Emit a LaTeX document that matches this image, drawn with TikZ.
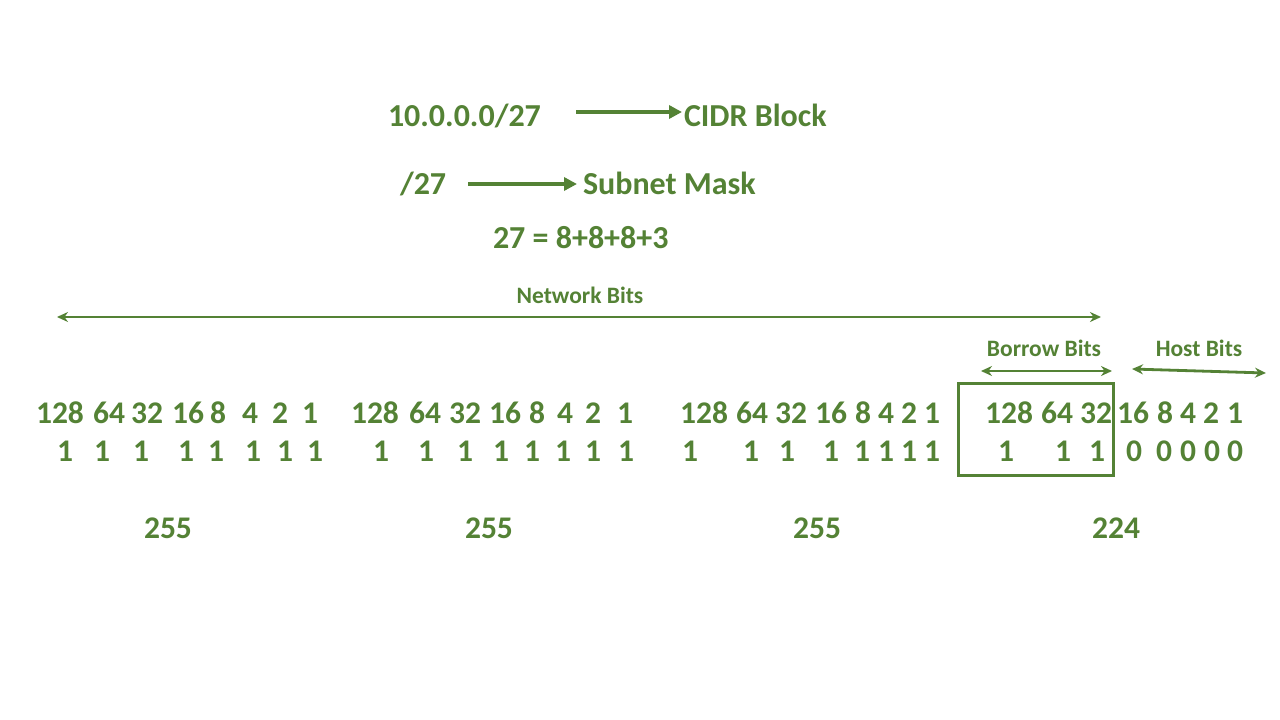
\documentclass[tikz,border=0pt]{standalone}
\usepackage{fontspec}
\setmainfont{Carlito}
\usetikzlibrary{arrows.meta}
\definecolor{cgreen}{RGB}{84,130,53}
\begin{document}
\begin{tikzpicture}[x=1pt,y=-1pt,
  every node/.style={inner sep=0pt,outer sep=0pt,text=cgreen,font=\bfseries},
  big/.style={font=\fontsize{32}{36}\selectfont\bfseries,anchor=base west},
  num/.style={font=\fontsize{31.5}{34}\selectfont\bfseries,anchor=base},
  lab/.style={font=\fontsize{23.5}{26}\selectfont\bfseries,anchor=base},
  bigarrow/.style={draw=cgreen,line width=4.5pt,-{Triangle[length=13pt,width=13pt]}},
  dblarrow/.style={draw=cgreen,line width=2.8pt,{Stealth[length=11pt,width=10pt]}-{Stealth[length=11pt,width=10pt]}},
  boxstyle/.style={draw=cgreen,line width=3pt}]
\useasboundingbox (0,0) rectangle (1280,720);
\fill[white] (0,0) rectangle (1280,720);

% top section
\node[big] (ip) at (388,126) {10.0.0.0/27};
\node[big] (cidr) at (684,126) {CIDR Block};
\node[big] (sl) at (400,194) {/27};
\node[big] (mask) at (583,194) {Subnet Mask};
\node[big] (sum) at (493,248) {27 = 8+8+8+3};
\coordinate (a1s) at (576,112);
\coordinate (a1e) at (682,112);
\coordinate (a2s) at (468,184);
\coordinate (a2e) at (577,184);
\draw[bigarrow] (a1s) -- (a1e);
\draw[bigarrow] (a2s) -- (a2e);

% labels and arrows
\node[lab] (net) at (580,303) {Network Bits};
\node[lab] (borrow) at (1044,356) {Borrow Bits};
\node[lab] (host) at (1199,356) {Host Bits};
\coordinate (n1) at (57,317);
\coordinate (n2) at (1101,317);
\coordinate (b1) at (981,371);
\coordinate (b2) at (1112,371);
\coordinate (h1) at (1132,369);
\coordinate (h2) at (1266,373);
\draw[dblarrow] (n1) -- (n2);
\draw[dblarrow] (b1) -- (b2);
\draw[dblarrow] (h1) -- (h2);

% place values
\foreach \x/\t [count=\i] in {60/128,109/64,147/32,188/16,218/8,250/4,280/2,310/1,
  375/128,425/64,465/32,505/16,537/8,565/4,593/2,625/1,
  704/128,752/64,791/32,831/16,863/8,886/4,909/2,932/1,
  1009/128,1057/64,1096/32,1133/16,1165/8,1188/4,1211/2,1235/1}
  \node[num] (p\i) at (\x,423) {\t};
% bits
\foreach \x/\t [count=\i] in {65/1,102/1,141/1,186/1,216/1,253/1,285/1,315/1,
  381/1,426/1,465/1,501/1,532/1,563/1,593/1,626/1,
  690/1,751/1,787/1,831/1,862/1,886/1,909/1,932/1,
  1006/1,1063/1,1097/1,1134/0,1164/0,1188/0,1212/0,1235/0}
  \node[num] (b\i) at (\x,461) {\t};

% borrow box
\coordinate (bx1) at (958,383);
\coordinate (bx2) at (1113,475);
\draw[boxstyle] (bx1) rectangle (bx2);

% octet values
\node[num] (o1) at (168,538) {255};
\node[num] (o2) at (489,538) {255};
\node[num] (o3) at (817,538) {255};
\node[num] (o4) at (1116,538) {224};
\end{tikzpicture}
\end{document}
